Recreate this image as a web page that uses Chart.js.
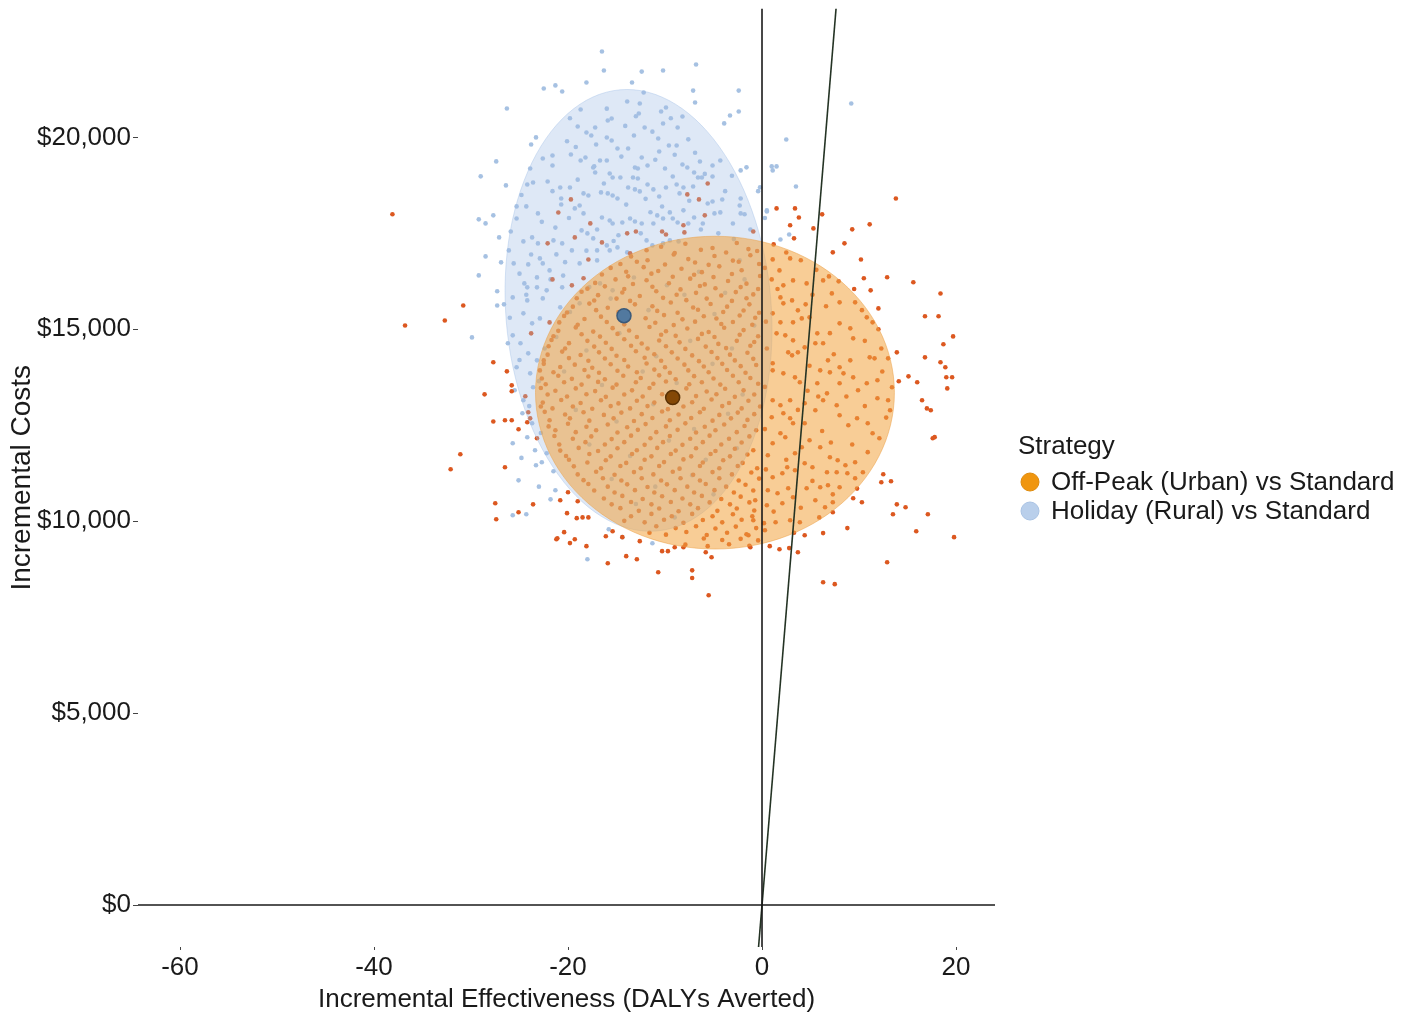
<!DOCTYPE html>
<html lang="en">
<head>
<meta charset="UTF-8">
<title>Cost-Effectiveness Plane</title>
<script src="https://cdn.jsdelivr.net/npm/chart.js"></script>
<style>
  body { margin: 0; padding: 0; background: #fff; }
  .plane { width: 1410px; height: 1017px; }
</style>
</head>
<body>
<div class="plane"><canvas id="cePlane" width="1410" height="1017"></canvas></div>
<script>
// axis setup
const effTicks = [-60, -40, -20, 0, 20];
const costTicks = [0, 5000, 10000, 15000, 20000];
const effRange = [-64.33, 24.02];
const costRange = [-1094, 23359];
const wtpThreshold = 3060; // $ per DALY averted

const seriesNames = ['Off-Peak (Urban) vs Standard', 'Holiday (Rural) vs Standard'];

// mean incremental effect / cost
const offPeakMean = [-9.21, 13221];
const holidayMean = [-14.23, 15356];

// 95% ellipses: centre, half-axis u, half-axis v (data units)
const offPeakEllipse = [-4.85, 13350, 0, 4075, 18.5, 0];
const holidayEllipse = [-12.73, 15494, -1.19, 5755, 13.71, 0];

// probabilistic draws, [DALYs averted, incremental cost]
const offPeakDraws = [
  [-38.1,18000],[-36.8,15100],[-32.7,15230],[-30.8,15620],
  [-27.7,14140],[-26.3,13905],[-25.8,13540],[-25.8,13385],[-28.6,13305],[-27.7,12600],[-26.5,12630],[-25.8,12630],
  [-25.1,12395],[-24.2,12580],[-31.1,11745],[-32.1,11355],[-26.5,11405],[-27.5,10470],[-27.4,10050],[-25.1,10235],
  [-23.6,10440],[-20.8,10545],[-20.1,10210],[-19.1,10080],[-20.4,9715],[-21.1,9555],
  [-20.0,10755],[-19.0,10520],[-18.5,10100],[-17.9,10100],[-21.2,9530],[-19.8,9430],[-19.3,9530],[-18.1,9350],
  [-16.1,9610],[-15.4,9740],[-15.9,8905],[-14.0,9090],[-12.9,9010],[-14.4,9585],[-12.6,9480],[-10.7,8670],
  [-10.3,9220],[-9.7,9220],[-9.0,9320],[-8.1,9320],[-7.2,8720],[-7.2,8520],[-5.8,9190],[-5.2,9060],[-5.5,8070],
  [-1.2,9320],[0.8,9350],[1.8,9270],[2.8,9300],[3.7,9190],[4.4,9635],[6.3,9690],[7.3,10235],[8.8,9820],
  [6.3,8410],[7.5,8360],[9.4,10600],[10.3,10495],[12.5,11225],[12.3,11015],[13.3,11040],[13.9,10440],[14.8,10365],
  [13.5,10180],[17.1,10180],[15.9,9740],[19.8,9585],[12.9,8930],
  [12.0,15545],[16.8,15340],[18.2,15340],[13.9,14400],[18.7,14610],[19.7,14815],[16.8,14270],[18.4,14140],
  [18.9,14010],[19.0,13750],[19.6,13750],[19.1,13460],[15.1,13775],[14.1,13645],[16.0,13620],[16.5,13150],
  [17.0,12940],[17.4,12890],[17.6,12160],[17.8,12190],
  [13.8,18410],[1.5,18150],[3.4,18150],[3.8,17915],[2.9,17710],[3.3,17370],[5.3,17630],[6.2,17995],[11.1,17735],
  [9.3,17605],[8.5,17240],[7.3,17005],[10.2,16820],[10.5,16330],[12.9,16355],[15.6,16225],[11.2,16015],[18.4,15935],
  [-19.7,18385],[-21.0,18045],[-17.7,17760],[-19.3,17395],[-22.1,17240],[-16.5,17265],[-17.9,16820],[-21.6,16300],
  [-19.6,16145],[-18.4,16330],[-13.9,17500],[-13.0,17550],[-10.3,17550],[-9.9,17470],[-8.0,17525],[-8.1,17710],
  [-7.7,18515],[-6.5,18385],[-5.6,18800],[-5.9,17970],[-0.9,17550],[-13.6,16980],[-23.8,14895],[-24.4,13255],
  [-24.1,12840],[-23.9,12680],[-23.2,12160],[-21.9,15180],
  [1.2,17212],[1.1,16822],[2.9,16848],[1.8,16535],[1.0,16301],[2.2,16145],[3.2,16275],[4.6,16197],[6.9,16379],
  [6.3,16275],[7.2,15936],[8.0,15702],[1.9,15832],[3.1,15754],[2.2,15676],[3.7,15494],[4.1,15285],[4.9,15312],
  [3.2,15181],[1.9,15181],[1.1,15416],[1.5,14895],[2.4,14843],[3.2,14713],[4.4,14530],[5.5,14635],[6.3,14635],
  [5.7,14895],[8.0,15155],[9.6,15702],[9.4,14765],[9.1,15025],[10.8,15312],[11.4,15181],[3.1,14322],[3.7,14400],
  [1.1,14114],[2.2,13853],[3.4,13749],[3.9,13619],[1.1,13931],[6.0,13931],[6.8,14192],[8.0,14010],[9.1,14192],
  [7.0,13879],[8.4,13853],[9.4,13749],[11.1,14270],[11.6,14244],[13.0,14244],[11.9,13671],[13.4,13489],[13.0,13150],
  [13.2,12890],[11.9,13202],[10.8,13593],[9.9,13411],[8.0,13593],[6.7,13332],[5.7,13593],[6.3,13150],[7.7,13020],
  [8.0,12760],[8.9,12499],[9.8,12681],[10.9,12551],[11.4,12291],[12.1,12161],[5.5,12890],[4.4,13072],[2.9,13150],
  [1.9,13020],[1.1,13150],[1.0,12707],[2.2,12812],[2.9,12681],[1.9,12291],[2.4,12187],[3.2,12551],[4.4,12551],
  [4.9,12109],[4.1,11926],[3.4,11770],[1.1,12031],[0.6,11718],[6.0,11926],[7.0,11666],[7.8,11588],[8.6,11458],
  [7.7,11275],[6.7,11275],[9.6,11536],[10.4,11275],[9.6,11119],[2.6,11406],[2.1,11249],[1.1,11145],[3.4,11327],
  [4.4,11510],[5.2,11406],[4.6,10859],[6.0,10885],[6.8,10937],[8.0,10885],[0.6,10807],[1.6,10729],[2.7,10859],
  [3.2,10624],[2.1,10468],[0.5,10416],[-0.7,10546],[7.3,10494],[6.5,10364],[5.5,10546],[1.4,9973],[2.9,10026],
  [3.9,9973],[-0.9,10026],[0.3,9765],[-1.4,9635],
  [0.3,16600],[2.5,17000],[4.0,16800],[5.6,16550],[7.9,16250],[9.5,16050],[0.4,15200],[5.2,15900],[6.6,15600],
  [10.3,15500],[12.0,15000],[7.0,14900],[10.6,14700],[12.3,14500],[0.5,14500],[4.9,14050],[7.4,14350],[12.4,13900],
  [0.3,13500],[4.7,13400],[8.7,13250],[10.6,13000],[12.8,12700],[0.3,12400],[3.7,12900],[6.2,12350],[7.1,12050],
  [9.3,12000],[10.9,11800],[0.4,11350],[5.2,11050],[7.3,10700],[8.8,11250],[9.8,10850],[1.2,10250],[4.0,10350],
  [5.9,10100],[3.3,9700],[0.2,9950],[1.6,16050],[4.5,15650],[2.7,14400],[5.8,13250],[2.5,11600],
  [-10.4,17150],[-7.9,17230],[-5.1,17120],[-2.6,17250],[-1.4,17090],
  [-13.5,16900],[-11.8,16800],[-9.1,16950],[-7.6,16830],[-4.9,16910],[-3.0,16790],[-1.2,16930],
  [-15.6,16600],[-14.0,16500],[-12.2,16620],[-10.7,16520],[-8.3,16580],[-6.2,16490],[-4.4,16640],[-2.1,16540],
  [-17.2,16210],[-15.1,16300],[-13.3,16180],[-11.9,16280],[-9.6,16200],[-7.4,16320],[-5.9,16170],[-3.5,16260],[-1.6,16190],
  [-18.6,15980],[-16.9,15890],[-14.4,15960],[-12.6,15870],[-10.9,15990],[-8.8,15900],[-6.8,15950],[-4.2,15880],[-2.7,15970],[-0.9,15910],
  [-19.5,15590],[-17.8,15670],[-15.9,15560],[-13.1,15650],[-11.3,15600],[-9.4,15700],[-7.1,15570],[-5.3,15660],[-3.6,15590],[-1.3,15650],
  [-20.4,15350],[-18.3,15270],[-16.6,15330],[-12.0,15290],[-10.1,15370],[-8.2,15260],[-6.0,15340],[-4.7,15280],[-2.3,15360],[-0.7,15300],
  [-21.0,14960],[-19.2,15050],[-17.4,14940],[-15.4,15030],[-13.7,14970],[-11.6,15060],[-9.9,14950],[-7.7,15020],[-5.5,14930],[-3.9,15040],[-1.9,14980],
  [-21.7,14720],[-19.9,14640],[-18.0,14700],[-16.1,14650],[-14.2,14740],[-12.4,14630],[-10.6,14710],[-8.5,14660],[-6.6,14750],[-4.5,14620],[-2.6,14700],[-0.8,14670],
  [-22.1,14340],[-20.6,14420],[-18.7,14330],[-16.8,14400],[-15.0,14310],[-13.0,14430],[-11.1,14350],[-9.3,14400],[-7.2,14320],[-5.2,14410],[-3.3,14340],[-1.5,14390],
  [-22.5,14100],[-20.8,14020],[-19.3,14080],[-17.5,14000],[-15.6,14090],[-13.8,14030],[-11.9,14110],[-10.0,14010],[-8.0,14080],[-6.0,14030],[-4.1,14100],[-2.2,14040],[-0.6,14070],
  [-22.7,13720],[-21.0,13790],[-19.6,13710],[-17.9,13770],[-16.2,13700],[-14.3,13790],[-12.5,13730],[-10.6,13800],[-8.9,13700],[-7.0,13780],[-5.0,13720],[-3.0,13790],[-1.2,13730],
  [-22.8,13470],[-21.3,13400],[-19.2,13460],[-17.2,13390],[-15.4,13480],[-13.4,13410],[-11.6,13470],[-7.8,13460],[-5.7,13380],[-3.8,13450],[-1.9,13410],
  [-22.6,13090],[-20.7,13160],[-18.7,13080],[-16.6,13150],[-14.8,13070],[-12.9,13140],[-11.1,13090],[-7.2,13100],[-5.2,13170],[-3.4,13080],[-1.4,13140],
  [-22.4,12850],[-20.3,12780],[-18.4,12840],[-16.3,12770],[-14.5,12830],[-12.4,12790],[-10.3,12860],[-8.6,12780],[-6.4,12840],[-4.4,12770],[-2.5,12830],[-0.8,12790],
  [-22.0,12470],[-20.0,12540],[-18.1,12460],[-15.9,12520],[-13.9,12450],[-12.0,12530],[-9.9,12470],[-7.9,12550],[-5.9,12460],[-3.9,12520],[-1.8,12480],
  [-21.4,12220],[-19.5,12150],[-17.6,12210],[-15.5,12140],[-13.5,12230],[-11.5,12160],[-9.5,12220],[-7.4,12150],[-5.4,12230],[-3.4,12150],[-1.3,12210],
  [-20.8,11840],[-18.9,11910],[-16.9,11830],[-14.9,11900],[-12.9,11850],[-10.8,11910],[-8.9,11840],[-6.8,11900],[-4.8,11830],[-2.8,11890],[-0.9,11850],
  [-19.9,11600],[-18.0,11530],[-16.1,11590],[-14.0,11520],[-12.1,11600],[-10.1,11540],[-8.1,11610],[-6.1,11530],[-4.0,11590],[-2.0,11520],
  [-19.0,11220],[-17.1,11290],[-15.2,11210],[-13.2,11280],[-11.2,11220],[-9.2,11290],[-7.1,11210],[-5.1,11280],[-3.1,11220],[-1.1,11270],
  [-17.9,10970],[-15.9,10900],[-13.9,10960],[-11.8,10890],[-9.8,10960],[-7.7,10900],[-5.8,10970],[-3.7,10900],[-1.7,10950],
  [-16.3,10590],[-14.4,10660],[-12.3,10580],[-10.3,10650],[-8.2,10590],[-6.2,10660],[-4.2,10580],[-2.2,10640],
  [-14.6,10340],[-12.7,10270],[-10.6,10330],[-8.6,10260],[-6.6,10340],[-4.6,10270],[-2.6,10330],[-0.8,10280],
  [-14.2,10010],[-12.1,9970],[-10.1,10040],[-8.1,9960],[-6.1,10030],[-4.1,9970],[-2.1,10040],
  [-11.6,9700],[-9.9,9650],[-7.8,9720],[-5.7,9640],[-3.6,9700],[-1.6,9660],
  [-7.9,9390],[-5.6,9350],[-3.4,9400],[-1.3,9360],
  [-11.9,17060],[-9.0,16990],[-6.3,17070],[-3.7,17000],[-0.5,17040],
  [-14.6,16700],[-12.9,16760],[-10.0,16690],[-6.9,16740],[-5.5,16680],[-2.4,16760],[-0.3,16700],
  [-16.5,16430],[-13.8,16380],[-11.4,16450],[-9.2,16370],[-7.0,16420],[-5.0,16360],[-3.1,16440],[-0.2,16390],
  [-18.0,16060],[-16.2,16120],[-14.2,16050],[-11.3,16110],[-8.4,16040],[-6.4,16130],[-4.8,16070],[-2.2,16100],[-0.4,16050],
  [-19.1,15810],[-17.3,15750],[-15.0,15800],[-13.6,15740],[-10.2,15820],[-7.8,15760],[-5.7,15800],[-3.1,15740],[-1.6,15810],
  [-20.1,15440],[-17.1,15500],[-14.8,15450],[-10.8,15480],[-8.7,15430],[-6.6,15510],[-4.0,15450],[-1.9,15490],[-0.3,15430],
  [-20.9,15180],[-19.0,15120],[-16.0,15190],[-14.2,15130],[-11.0,15170],[-9.1,15110],[-6.9,15200],[-4.2,15140],[-3.0,15190],[-1.0,15120],
  [-21.5,14820],[-18.6,14870],[-16.7,14810],[-14.9,14880],[-12.9,14800],[-10.4,14860],[-8.9,14830],[-6.2,14880],[-4.9,14800],[-2.3,14860],[-0.4,14820],
  [-22.0,14560],[-20.3,14500],[-17.3,14550],[-15.5,14490],[-13.5,14570],[-11.8,14500],[-9.9,14560],[-7.9,14490],[-5.8,14550],[-3.7,14510],[-1.2,14570],
  [-22.5,14190],[-19.9,14250],[-17.9,14180],[-16.2,14240],[-14.2,14200],[-12.1,14260],[-10.4,14180],[-8.7,14240],[-6.5,14170],[-4.6,14250],[-2.8,14190],[-0.9,14230],
  [-22.9,13930],[-21.5,13880],[-18.3,13940],[-16.8,13870],[-14.9,13920],[-12.9,13880],[-11.1,13950],[-9.5,13870],[-7.6,13930],[-5.5,13880],[-3.6,13940],[-1.7,13870],
  [-22.3,13570],[-20.4,13620],[-18.6,13560],[-16.9,13630],[-15.0,13560],[-13.0,13620],[-11.2,13580],[-9.9,13640],[-7.5,13570],[-6.2,13620],[-4.3,13560],[-2.4,13620],[-0.4,13580],
  [-22.1,13300],[-20.1,13250],[-18.1,13310],[-16.1,13240],[-14.2,13300],[-12.3,13250],[-10.3,13310],[-6.8,13260],[-4.7,13310],[-2.8,13240],[-0.8,13300],
  [-22.8,12990],[-21.6,12940],[-19.5,12990],[-17.5,12930],[-15.6,13000],[-13.6,12940],[-11.8,13000],[-9.7,12920],[-8.1,12990],[-6.0,12930],[-4.1,13000],[-2.1,12940],[-0.2,12990],
  [-21.9,12630],[-19.8,12680],[-17.8,12620],[-15.3,12680],[-13.2,12610],[-11.3,12690],[-9.5,12630],[-7.3,12690],[-5.1,12620],[-3.2,12680],[-1.5,12640],
  [-21.3,12370],[-19.2,12320],[-17.1,12370],[-14.9,12310],[-12.8,12380],[-10.9,12320],[-8.7,12380],[-6.8,12310],[-4.8,12370],[-2.6,12320],[-0.6,12370],
  [-20.9,12000],[-18.2,12060],[-16.2,12000],[-14.2,12060],[-12.1,11990],[-10.2,12060],[-8.2,11990],[-6.1,12060],[-4.2,12000],[-2.1,12050],
  [-20.2,11700],[-17.8,11750],[-15.6,11690],[-13.4,11750],[-11.4,11690],[-9.4,11750],[-7.3,11690],[-5.3,11750],[-3.3,11690],[-1.5,11740],
  [-19.4,11430],[-16.6,11380],[-14.6,11440],[-12.5,11380],[-10.6,11440],[-8.5,11370],[-6.4,11440],[-4.4,11380],[-2.5,11440],[-0.5,11380],
  [-18.4,11070],[-16.4,11120],[-14.5,11060],[-12.4,11120],[-10.4,11060],[-8.4,11120],[-6.4,11060],[-4.4,11120],[-2.4,11060],[-0.3,11110],
  [-17.3,10800],[-15.2,10750],[-13.1,10810],[-11.1,10750],[-9.0,10810],[-7.0,10750],[-4.9,10810],[-2.9,10750],[-0.9,10800],
  [-15.5,10440],[-13.5,10500],[-11.4,10440],[-9.4,10500],[-7.4,10440],[-5.4,10490],[-3.3,10440],[-1.3,10490],
  [-13.5,10130],[-11.4,10190],[-9.3,10130],[-7.2,10190],[-5.1,10130],[-3.0,10180],[-1.0,10130],
  [-10.9,9870],[-8.9,9820],[-6.8,9870],[-4.8,9810],[-2.7,9860],[-0.6,9820],
  [-6.0,9550],[-4.1,9510],[-2.2,9540],[-0.4,9500]
];

const holidayDraws = [
  [-16.5,22240],[-22.5,21275],[-21.3,21355],[-20.6,21195],[-18.1,21430],[-16.3,21745],[-13.4,21430],[-12.4,21715],
  [-10.2,21745],[-6.8,21900],[-7.1,21220],[-6.9,20910],[-2.4,21220],[-2.4,20675],[-3.3,20570],[-3.9,20365],
  [-26.3,20755],[-23.3,20000],[-23.8,19815],[-27.4,19375],[-29.0,18985],[-26.4,18750],[-29.2,17865],[-28.5,17760],
  [-27.7,17970],[-27.1,17395],[-28.5,16900],[-26.9,16745],[-29.2,16405],[-27.3,15990],[-27.3,15620],[-26.6,15650],
  [2.5,19945],[1.0,19245],[1.5,19245],[1.1,19140],[-1.6,19220],[-2.2,19140],[3.5,18720],[-0.2,18700],[0.5,18070],
  [2.8,17470],[1.9,17340],[9.2,20885],[-29.9,14790],[-26.2,14635],[-25.7,12030],[-23.3,11460],[-22.7,11535],
  [-25.1,11065],[-21.3,10805],[-21.8,10570],[-25.7,10155],[-24.3,10180],[-18.0,9010],[-15.8,9790],[-14.4,9585],
  [-11.3,9425],[0.5,18098],
  [-12.2,21171],[-13.9,20936],[-12.6,20884],[-9.9,20780],[-10.4,20676],[-18.7,20728],[-15.9,20441],[-15.5,20493],
  [-12.7,20624],[-19.0,20285],[-17.2,20259],[-12.1,20259],[-10.2,20363],[-8.2,20546],[-8.7,20259],[-18.1,20129],
  [-13.2,20051],[-16.0,19998],[-15.5,19920],[-10.7,19972],[-9.6,19790],[-8.8,19790],[-21.6,19530],[-19.7,19556],
  [-17.1,19816],[-14.9,19712],[-13.8,19712],[-12.4,19478],[-10.6,19634],[-6.4,19374],[-5.1,19270],[-8.2,19296],
  [-18.7,19400],[-18.2,19478],[-16.7,19400],[-16.0,19400],[-21.6,19270],[-23.9,19192],[-17.4,19218],[-17.2,19087],
  [-15.4,18957],[-14.6,18957],[-13.1,19218],[-12.8,19192],[-11.8,19270],[-15.7,19061],[-13.3,18957],[-12.8,18931],
  [-10.0,19192],[-9.2,18983],[-7.7,19218],[-7.0,19087],[-6.6,18957],[-5.1,18983],[-24.2,18775],[-23.6,18827],
  [-22.1,18853],[-20.8,18697],[-19.8,18697],[-18.4,18541],[-17.9,18488],[-16.6,18567],[-15.9,18541],[-15.4,18488],
  [-14.9,18410],[-13.8,18697],[-13.1,18645],[-12.6,18593],[-11.8,18775],[-11.2,18645],[-10.6,18462],[-9.9,18697],
  [-8.8,18775],[-8.5,18541],[-8.1,18697],[-7.1,18723],[-6.2,18957],[-2.2,18410],[-2.3,18228],[-4.1,18384],
  [-5.1,18332],[-5.6,18280],[-25.3,18202],[-24.3,18202],[-23.1,18020],[-20.7,18410],[-20.7,18254],[-19.3,18150],
  [-18.8,18228],[-18.4,18020],[-16.5,17915],[-15.7,17837],[-15.4,17759],[-14.4,17785],[-13.6,17889],[-13.1,17811],
  [-12.4,17759],[-11.2,17759],[-10.8,17968],[-10.2,17889],[-9.5,18046],[-9.2,17889],[-8.7,17785],[-7.6,17759],
  [-7.0,17915],[-6.1,17759],[-4.9,18020],[-4.3,18046],[-3.0,17759],[-2.2,18020],[-25.3,17889],[-24.6,17291],
  [-23.7,17395],[-23.1,17238],[-21.5,17317],[-20.6,17238],[-18.6,17577],[-18.0,17499],[-17.4,17369],[-17.0,17056],
  [-16.0,17186],[-15.7,17056],[-14.9,17134],[-13.9,17004],[-11.9,17317],[-11.3,17186],[-10.2,17238],[-9.5,17317],
  [-8.6,17291],[-26.1,17056],[-25.6,16717],[-24.1,16691],[-22.9,16848],[-21.2,16952],[-19.6,17056],[-18.8,16717],
  [-17.0,16796],[-24.5,16197],[-23.2,16093],[-22.2,16015],[-20.6,16093],[-25.7,15832],[-24.2,15754],[-22.6,15806],
  [-20.8,15572],[-18.8,15676],[-16.7,16197],[-15.4,16015],
  [-24.2,16093],[-23.2,16353],[-22.6,16717],[-21.9,16535],[-24.6,15416],[-23.7,15155],[-22.9,15285],[-25.7,14843],
  [-24.9,14635],[-24.1,14374],[-23.2,14192],[-25.3,14010],[-23.9,13853],[-25.5,13411],[-24.6,13150],[-23.6,13489],
  [-24.7,12812],[-23.7,12551],[-24.2,12187],[-23.4,11848],[-22.2,11770],
  [-20.1,19900],[-17.6,20050],[-14.1,20300],[-11.3,20150],[-7.6,19950],[-22.6,19450],[-19.2,19750],[-14.5,19500],
  [-11.0,19420],[-9.0,19550],[-6.9,19600],[-24.8,18500],[-21.6,18600],[-19.0,18900],[-16.3,18800],[-14.0,18250],
  [-12.0,18400],[-10.3,18200],[-7.5,18350],[-3.8,18600],[-3.1,19000],[-25.9,17550],[-22.7,17800],[-21.3,17650],
  [-19.9,17900],[-17.0,17600],[-14.8,17450],[-12.5,17500],[-11.5,18050],[-8.1,18100],[-6.3,17600],[-4.5,17500],
  [-25.0,16450],[-23.8,16950],[-20.3,16750],[-18.1,17050],[-15.3,17300],[-26.0,15300],[-24.3,15900],[-21.8,16300],
  [-25.0,14200],[-23.0,13650],[-22.4,14500],[-24.0,13000],[-22.8,12300],[-24.8,11650],[-21.5,11300],[-23.0,10900],
  [-16.0,20750],[-13.0,20550],[-9.4,20500],[-19.8,20500],[-17.3,19250],[-5.9,19050],[-4.3,19400],[-1.8,18000],[-2.9,17350],
  [-20.5,16400],[-17.8,16100],[-13.2,16350],[-9.8,16150],[-6.5,16500],[-3.8,15950],[-19.8,15450],[-15.6,15800],
  [-11.7,15500],[-8.0,15900],[-4.9,15400],[-1.8,16300],[-21.2,14800],[-18.1,14450],[-14.7,14900],[-10.9,14300],
  [-7.4,14700],[-3.1,14500],[-20.4,13900],[-16.5,13550],[-12.3,13900],[-8.8,13600],[-5.1,14100],[-2.0,13300],
  [-19.2,12900],[-15.0,12600],[-11.2,13050],[-7.0,12400],[-3.5,12800],[-17.8,12000],[-13.6,11700],[-9.6,12100],
  [-5.8,11600],[-2.6,11900],[-15.5,11100],[-11.0,10900],[-7.2,11200],[-13.0,10450],[-9.0,10100],[-5.0,10700],
  [-2.3,16800],[-0.8,15100],[-1.2,17600],[-0.4,18600],[0.3,17900]
];

const toPts = arr => arr.map(([x, y]) => ({ x, y }));

// confidence ellipses, drawn over both clouds and under the means
const ellipsePlugin = {
  id: 'ellipses',
  afterDatasetDraw(chart, args) {
    if (args.index !== 0) return;
    const { ctx, scales: { x, y }, chartArea } = chart;
    const drawOne = (e, fill, stroke) => {
      const [cx, cy, ux, uy, vx, vy] = e;
      ctx.beginPath();
      for (let i = 0; i <= 120; i++) {
        const t = (i / 120) * Math.PI * 2;
        const px = x.getPixelForValue(cx + Math.cos(t) * ux + Math.sin(t) * vx);
        const py = y.getPixelForValue(cy + Math.cos(t) * uy + Math.sin(t) * vy);
        if (i === 0) ctx.moveTo(px, py); else ctx.lineTo(px, py);
      }
      ctx.closePath();
      ctx.fillStyle = fill;
      ctx.fill();
      ctx.strokeStyle = stroke;
      ctx.lineWidth = 1;
      ctx.stroke();
    };
    ctx.save();
    ctx.beginPath();
    ctx.rect(chartArea.left, chartArea.top, chartArea.width, chartArea.height);
    ctx.clip();
    drawOne(holidayEllipse, 'rgba(160,190,230,0.35)', 'rgba(160,190,230,0.4)');
    drawOne(offPeakEllipse, 'rgba(242,164,64,0.55)', 'rgba(235,160,70,0.5)');
    ctx.restore();
  }
};

// legend on the right
const legendPlugin = {
  id: 'strategyLegend',
  afterDraw(chart) {
    const ctx = chart.ctx;
    ctx.save();
    ctx.fillStyle = '#1a1a1a';
    ctx.textBaseline = 'middle';
    ctx.font = '26px "Liberation Sans", Arial, sans-serif';
    ctx.fillText('Strategy', 1018, 447);
    const swatches = [['#f0960f', '#de8a0c'], ['#b9cfeb', '#a9c2e3']];
    seriesNames.forEach((name, i) => {
      const cy = 482 + i * 29;
      ctx.beginPath();
      ctx.arc(1030, cy, 9, 0, Math.PI * 2);
      ctx.fillStyle = swatches[i][0];
      ctx.fill();
      ctx.strokeStyle = swatches[i][1];
      ctx.lineWidth = 1;
      ctx.stroke();
      ctx.fillStyle = '#1a1a1a';
      ctx.fillText(name, 1051, cy + 1);
    });
    ctx.restore();
  }
};

Chart.defaults.font.family = '"Liberation Sans", Arial, sans-serif';
Chart.defaults.color = '#1a1a1a';

new Chart(document.getElementById('cePlane'), {
  type: 'scatter',
  data: {
    datasets: [
      {
        label: seriesNames[0],
        data: toPts(offPeakDraws),
        backgroundColor: '#dc5820',
        pointRadius: 2.3,
        pointBorderWidth: 0,
        order: 4
      },
      {
        label: seriesNames[1],
        data: toPts(holidayDraws),
        backgroundColor: '#a6c1e2',
        pointRadius: 2.3,
        pointBorderWidth: 0,
        order: 5
      },
      {
        label: 'Off-Peak mean',
        data: toPts([offPeakMean]),
        backgroundColor: '#844806',
        borderColor: '#5a3104',
        borderWidth: 1.5,
        pointRadius: 7,
        order: 2
      },
      {
        label: 'Holiday mean',
        data: toPts([holidayMean]),
        backgroundColor: '#52799f',
        borderColor: '#3b5a7a',
        borderWidth: 1.5,
        pointRadius: 7,
        order: 2
      },
      {
        label: 'zero effect',
        data: [{ x: 0, y: costRange[0] }, { x: 0, y: costRange[1] }],
        showLine: true,
        borderColor: '#1a1a1a',
        borderWidth: 1.6,
        pointRadius: 0,
        order: 1
      },
      {
        label: 'zero cost',
        data: [{ x: effRange[0], y: 0 }, { x: effRange[1], y: 0 }],
        showLine: true,
        borderColor: '#1a1a1a',
        borderWidth: 1.6,
        pointRadius: 0,
        order: 1
      },
      {
        label: 'WTP',
        data: [
          { x: costRange[0] / wtpThreshold, y: costRange[0] },
          { x: costRange[1] / wtpThreshold, y: costRange[1] }
        ],
        showLine: true,
        borderColor: '#243324',
        borderWidth: 1.6,
        pointRadius: 0,
        order: 1
      }
    ]
  },
  options: {
    responsive: false,
    animation: false,
    devicePixelRatio: 1,
    layout: { padding: { top: 8, right: 415, bottom: 0, left: 0 } },
    plugins: {
      legend: { display: false },
      tooltip: { enabled: false }
    },
    scales: {
      x: {
        type: 'linear',
        min: effRange[0],
        max: effRange[1],
        afterBuildTicks: s => { s.ticks = effTicks.map(v => ({ value: v })); },
        afterFit: s => { s.height = 70; },
        border: { display: false },
        grid: { drawOnChartArea: false, drawTicks: true, tickLength: 3, color: '#444' },
        ticks: { font: { size: 26 }, padding: 2, maxRotation: 0, autoSkip: false },
        title: {
          display: true,
          text: 'Incremental Effectiveness (DALYs Averted)',
          font: { size: 26 },
          padding: { top: 0, bottom: 2 }
        }
      },
      y: {
        type: 'linear',
        min: costRange[0],
        max: costRange[1],
        afterBuildTicks: s => { s.ticks = costTicks.map(v => ({ value: v })); },
        afterFit: s => { s.width = 138; s.paddingTop = 0; s.paddingBottom = 0; },
        border: { display: false },
        grid: { drawOnChartArea: false, drawTicks: true, tickLength: 5, color: '#444' },
        ticks: {
          font: { size: 26 },
          padding: 2,
          callback: v => '$' + v.toLocaleString('en-US')
        },
        title: {
          display: true,
          text: 'Incremental Costs',
          font: { size: 28 },
          padding: { top: 5, bottom: 0 }
        }
      }
    }
  },
  plugins: [ellipsePlugin, legendPlugin]
});
</script>
</body>
</html>
